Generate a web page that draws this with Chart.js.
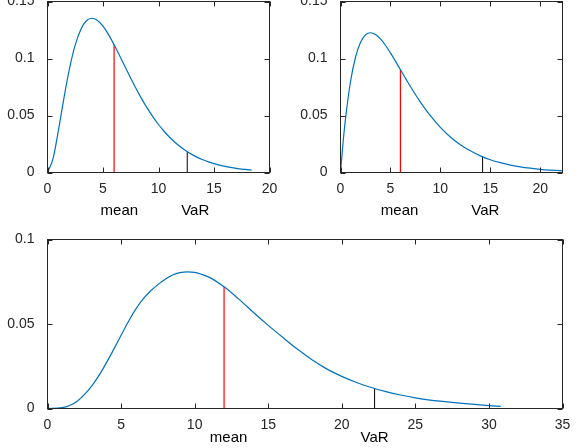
<!DOCTYPE html>
<html>
<head>
  <meta charset="utf-8">
  <title>mean / VaR</title>
  <style>
    body { margin: 0; background: #fff; }
    #wrap { position: relative; width: 585px; height: 448px; overflow: hidden; }
    canvas { position: absolute; }
  </style>
</head>
<body>
  <div id="wrap">
    <canvas id="c1" width="290" height="225" style="left:0;top:0"></canvas>
    <canvas id="c2" width="295" height="225" style="left:290px;top:0"></canvas>
    <canvas id="c3" width="585" height="223" style="left:0;top:225px"></canvas>
  </div>

  <script src="https://cdn.jsdelivr.net/npm/chart.js"></script>
  <script>
    // density, top left
    const leftX = [0, 0.5, 1, 1.5, 2, 2.5, 3, 3.5, 4, 4.5, 5, 5.5, 6, 6.5, 7, 7.5, 8, 8.5, 9, 9.5,
      10, 10.5, 11, 11.5, 12, 12.5, 13, 13.5, 14, 14.5, 15, 15.5, 16, 16.5, 17, 17.5, 18, 18.4];
    const leftPdf = [0, 0.0122, 0.0379, 0.0664, 0.092, 0.1119, 0.1255, 0.1331, 0.1353, 0.1334, 0.1283, 0.1209,
      0.112, 0.1024, 0.0925, 0.0827, 0.0733, 0.0644, 0.0562, 0.0488, 0.0421, 0.0362, 0.0309, 0.0263,
      0.0223, 0.0188, 0.0159, 0.0133, 0.0112, 0.0093, 0.0078, 0.0065, 0.0054, 0.0045, 0.0037, 0.003, 0.0025, 0.0021];

    // top right
    const rightX = [0, 0.25, 0.5, 1, 1.5, 2, 2.5, 3, 3.5, 4, 4.5, 5, 5.5, 6, 6.5, 7, 7.5, 8, 9, 10,
      11, 12, 13, 14, 15, 16, 17, 18, 19, 20, 21, 22, 22.3];
    const rightPdf = [0, 0.0256, 0.047, 0.0796, 0.1011, 0.1141, 0.1207, 0.1226, 0.1211, 0.1172, 0.1116, 0.1049,
      0.0977, 0.0902, 0.0828, 0.0754, 0.0684, 0.0618, 0.0498, 0.0396, 0.0312, 0.0244, 0.019, 0.0146,
      0.0112, 0.0086, 0.0065, 0.005, 0.0038, 0.0028, 0.0021, 0.0016, 0.0015];

    // bottom (sum)
    const sumX = [0, 1, 1.5, 2, 2.5, 3, 3.5, 4, 4.5, 5, 5.5, 6, 6.5, 7, 7.5, 8, 8.5, 9, 9.5, 10, 10.5, 11,
      12, 13, 14, 15, 16, 17, 18, 19, 20, 21, 22, 23, 24, 25, 26, 27, 28, 29, 30, 30.8];
    const sumPdf = [0, 0.0005, 0.0018, 0.0042, 0.0082, 0.0133, 0.0196, 0.027, 0.035, 0.0433, 0.0515, 0.0588,
      0.0648, 0.0695, 0.0733, 0.0765, 0.079, 0.0804, 0.0809, 0.0805, 0.0793, 0.0776,
      0.072, 0.0647, 0.0568, 0.0492, 0.042, 0.035, 0.0287, 0.0233, 0.019, 0.0154, 0.0124, 0.01, 0.008,
      0.0063, 0.005, 0.0041, 0.0032, 0.0024, 0.0017, 0.0012];

    // mean and VaR markers, one per panel
    const meanX = [6, 6, 12];
    const meanPdf = [0.112, 0.0902, 0.072];
    const varX = [12.59, 14.23, 22.23];
    const varPdf = [0.0182, 0.0138, 0.0119];
    const meanLabelX = [6.47, 5.92, 12.31];
    const varLabelX = [13.31, 14.5, 22.23];

    const xMax = [20, 22.23, 35];
    const yMax = [0.15, 0.15, 0.1];

    const FONT = "'Liberation Sans', Arial, Helvetica, sans-serif";
    const AX = '#262626';

    // MATLAB style box with inward ticks + the mean/VaR text
    const matlabAxes = {
      id: 'matlabAxes',
      afterDatasetsDraw(chart, args, opts) {
        const ctx = chart.ctx;
        const a = chart.chartArea;
        const xs = chart.scales.x, ys = chart.scales.y;
        ctx.save();
        ctx.strokeStyle = AX;
        ctx.lineWidth = 1;
        ctx.strokeRect(a.left, a.top, a.right - a.left, a.bottom - a.top);
        ctx.beginPath();
        xs.ticks.forEach(t => {
          const px = Math.round(xs.getPixelForValue(t.value)) + 0.5;
          ctx.moveTo(px, a.bottom); ctx.lineTo(px, a.bottom - 5);
          ctx.moveTo(px, a.top); ctx.lineTo(px, a.top + 5);
        });
        ys.ticks.forEach(t => {
          const py = Math.round(ys.getPixelForValue(t.value)) + 0.5;
          ctx.moveTo(a.left, py); ctx.lineTo(a.left + 5, py);
          ctx.moveTo(a.right, py); ctx.lineTo(a.right - 5, py);
        });
        ctx.stroke();
        ctx.fillStyle = '#000';
        ctx.font = '15px ' + FONT;
        ctx.textAlign = 'center';
        ctx.textBaseline = 'alphabetic';
        ctx.fillText('mean', xs.getPixelForValue(opts.meanAt), opts.textY);
        ctx.fillText('VaR', xs.getPixelForValue(opts.varAt), opts.textY);
        ctx.restore();
      }
    };

    function makePanel(id, i, xs, ys, box) {
      const curve = xs.map((x, k) => ({ x: x, y: ys[k] }));
      new Chart(document.getElementById(id), {
        type: 'line',
        data: {
          datasets: [
            { data: curve, borderColor: '#0072BD', borderWidth: 1.2, pointRadius: 0,
              cubicInterpolationMode: 'monotone', fill: false },
            { data: [{ x: meanX[i], y: 0 }, { x: meanX[i], y: meanPdf[i] }],
              borderColor: '#FF0000', borderWidth: 1.2, pointRadius: 0 },
            { data: [{ x: varX[i], y: 0 }, { x: varX[i], y: varPdf[i] }],
              borderColor: '#000000', borderWidth: 1, pointRadius: 0 }
          ]
        },
        options: {
          responsive: false,
          animation: false,
          events: [],
          layout: { padding: { left: 0, top: box.top, right: box.right, bottom: 0 } },
          plugins: {
            legend: { display: false },
            tooltip: { enabled: false },
            matlabAxes: { meanAt: meanLabelX[i], varAt: varLabelX[i], textY: box.textY }
          },
          scales: {
            x: {
              type: 'linear', min: 0, max: xMax[i],
              grid: { display: false }, border: { display: false },
              ticks: { stepSize: 5, includeBounds: false, maxRotation: 0, padding: 0,
                color: AX, font: { family: FONT, size: 14 } },
              afterFit(s) { s.height = box.xh; s.paddingLeft = 0; s.paddingRight = 0; }
            },
            y: {
              min: 0, max: yMax[i],
              grid: { display: false }, border: { display: false },
              ticks: { stepSize: 0.05, padding: 5, color: AX, font: { family: FONT, size: 14 },
                callback: v => String(+v.toFixed(4)) },
              afterFit(s) { s.width = box.yw; s.paddingTop = 0; s.paddingBottom = 0; }
            }
          }
        },
        plugins: [matlabAxes]
      });
    }

    makePanel('c1', 0, leftX, leftPdf, { top: 1.5, right: 20.5, xh: 52.5, yw: 47.5, textY: 215 });
    makePanel('c2', 1, rightX, rightPdf, { top: 1.5, right: 22.5, xh: 52.5, yw: 50.5, textY: 215 });
    makePanel('c3', 2, sumX, sumPdf, { top: 14.5, right: 22.5, xh: 39.5, yw: 47.5, textY: 217 });
  </script>
</body>
</html>
